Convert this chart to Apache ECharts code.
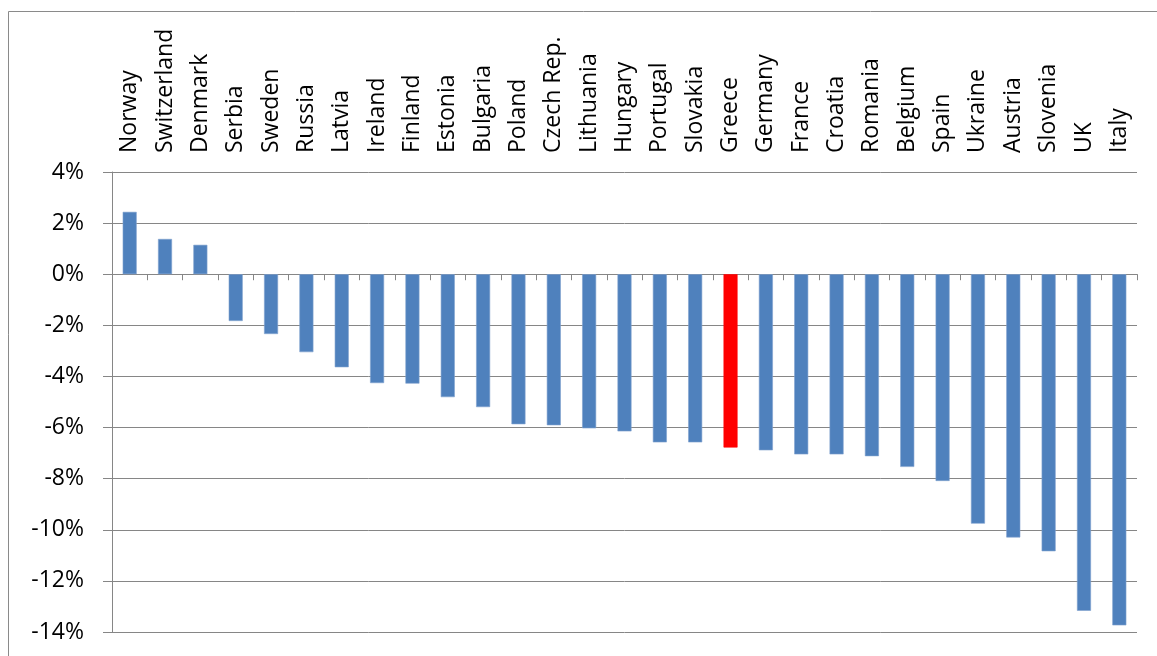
<!DOCTYPE html>
<html>
<head>
<meta charset="utf-8">
<script src="https://cdn.jsdelivr.net/npm/echarts@6/dist/echarts.min.js"></script>
<style>html,body{margin:0;padding:0;background:#fff;}#c{width:1157px;height:656px;}</style>
</head>
<body>
<div id="c"></div>
<script>
const countries = ["Norway","Switzerland","Denmark","Serbia","Sweden","Russia","Latvia","Ireland","Finland","Estonia","Bulgaria","Poland","Czech Rep.","Lithuania","Hungary","Portugal","Slovakia","Greece","Germany","France","Croatia","Romania","Belgium","Spain","Ukraine","Austria","Slovenia","UK","Italy"];
const values = [2.44,1.38,1.15,-1.83,-2.34,-3.05,-3.64,-4.26,-4.28,-4.81,-5.2,-5.87,-5.91,-6.03,-6.15,-6.58,-6.58,-6.78,-6.89,-7.05,-7.05,-7.12,-7.54,-8.09,-9.76,-10.3,-10.84,-13.17,-13.74];
const highlight = "Greece";
const yTicks = {min: -14, max: 4, step: 2};

const FONT = "'Open Sans', sans-serif";
const chart = echarts.init(document.getElementById('c'), null, {renderer: 'canvas'});
chart.setOption({
  animation: false,
  backgroundColor: '#fff',
  graphic: [{
    type: 'rect', silent: true,
    shape: {x: 8.5, y: 11.5, width: 1200, height: 700},
    style: {fill: 'none', stroke: '#8a8a8a', lineWidth: 1}
  }],
  grid: {left: 112, right: 20, top: 172, bottom: 24, containLabel: false},
  xAxis: [
    {
      type: 'category', data: countries, position: 'top',
      axisLine: {show: false, onZero: false},
      axisTick: {show: false},
      axisLabel: {rotate: -90, margin: 19, interval: 0, color: '#000', fontFamily: FONT, fontSize: 23}
    },
    {
      type: 'category', data: countries, position: 'bottom',
      axisLine: {show: true, onZero: true, lineStyle: {color: '#868686', width: 1}},
      axisTick: {show: true, length: 6, interval: 0, lineStyle: {color: '#868686', width: 1}},
      axisLabel: {show: false}
    }
  ],
  yAxis: {
    type: 'value', min: yTicks.min, max: yTicks.max, interval: yTicks.step,
    axisLine: {show: true, lineStyle: {color: '#868686', width: 1}},
    axisTick: {show: true, length: 9, lineStyle: {color: '#868686', width: 1}},
    splitLine: {show: true, lineStyle: {color: '#868686', width: 1}},
    axisLabel: {formatter: '{value}%', margin: 28, color: '#000', fontFamily: FONT, fontSize: 23}
  },
  series: [{
    type: 'bar', xAxisIndex: 1, barWidth: 14,
    data: values.map((v, i) => ({
      value: v,
      itemStyle: {color: countries[i] === highlight ? '#FF0000' : '#4F81BD',
                  borderColor: countries[i] === highlight ? '#FF0000' : '#7FA1CF', borderWidth: 0.6}
    }))
  }]
});
</script>
</body>
</html>
